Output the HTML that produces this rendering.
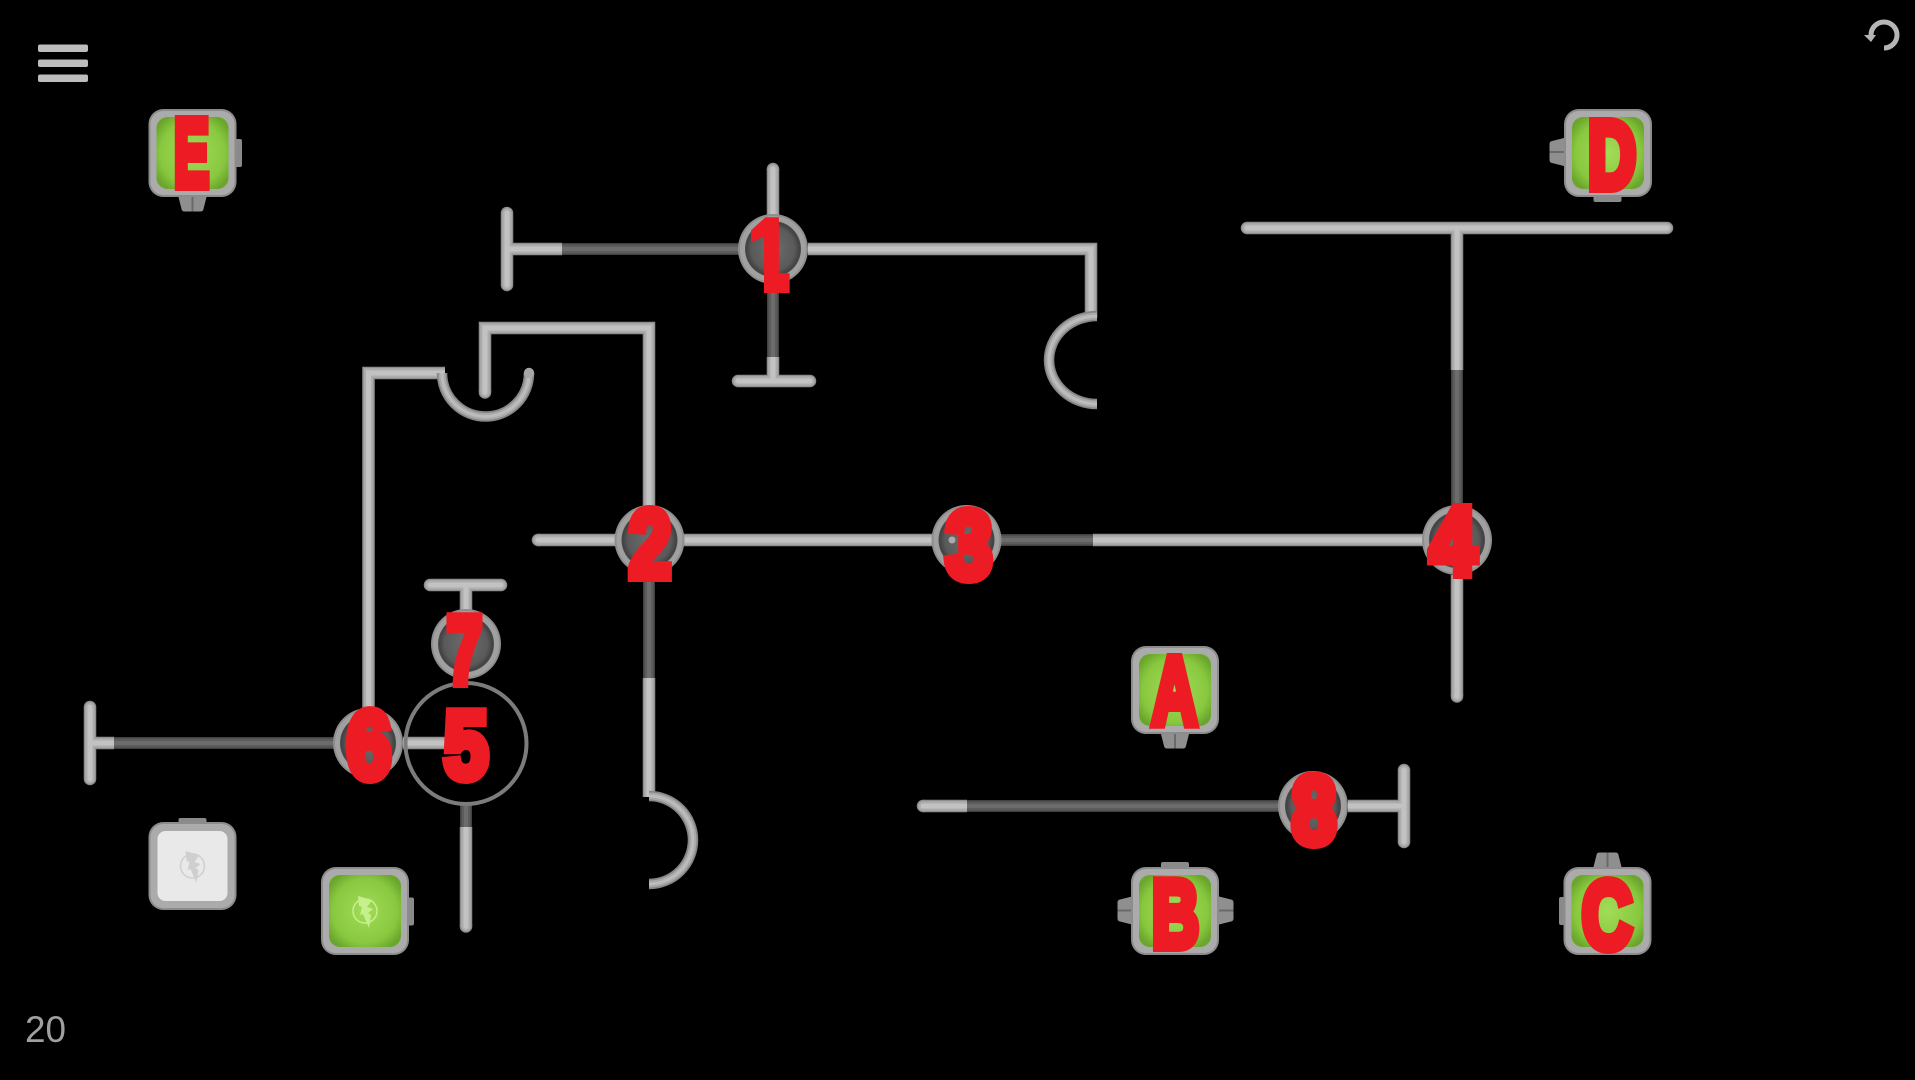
<!DOCTYPE html>
<html><head><meta charset="utf-8"><style>
html,body{margin:0;padding:0;background:#000;width:1915px;height:1080px;overflow:hidden}
svg{display:block}
.lab text{font-family:"Liberation Sans",sans-serif;font-weight:700;font-size:96px;fill:#ed1c24;stroke:#ed1c24;stroke-width:10px;stroke-linejoin:miter;stroke-miterlimit:3}
</style></head><body>
<svg width="1915" height="1080" viewBox="0 0 1915 1080" xmlns="http://www.w3.org/2000/svg">
<defs>
<radialGradient id="hubG" cx="50%" cy="50%" r="50%"><stop offset="0" stop-color="#6c6c6c"/><stop offset="0.8" stop-color="#5a5a5a"/><stop offset="1" stop-color="#404040"/></radialGradient>
<radialGradient id="greenG" cx="50%" cy="50%" r="60%"><stop offset="0" stop-color="#a2dc58"/><stop offset="0.75" stop-color="#88c83f"/><stop offset="1" stop-color="#6aa62c"/></radialGradient>
<clipPath id="oneClip"><polygon points="745,210 792,210 792,296 764,296 764,236 745,246"/></clipPath>
<g id="hub"><circle r="35" fill="#8e8e8e"/><circle r="33" fill="#a0a0a0"/><circle r="28" fill="#4a4a4a"/><circle r="27" fill="url(#hubG)"/></g>
<g id="frame"><rect width="88" height="88" rx="15" fill="#8c8c8c"/><rect x="2" y="2" width="84" height="84" rx="13" fill="#ababab"/></g>
<g id="bolt"><circle cx="44" cy="44" r="12" fill="none" stroke-width="1.5"/><polygon points="37,29 51,33 46,40 52,42 47,46 50,48 48,61 42,47 39,48 41,40 38,39" stroke="none"/></g>
<g id="gbox0"><use href="#frame"/><rect x="8" y="8" width="72" height="72" rx="11" fill="url(#greenG)"/></g>
<g id="gbox"><use href="#gbox0"/><use href="#bolt" fill="#c6f08e" stroke="#c6f08e"/></g>
<g id="wbox"><use href="#frame"/><rect x="9" y="9" width="70" height="70" rx="8" fill="#e9e9e9"/><use href="#bolt" fill="#cfcfcf" stroke="#cfcfcf"/></g>
<g id="conn"><path d="M-14,0 L14,0 L11,12 Q10.5,14.5 8,14.5 L-8,14.5 Q-10.5,14.5 -11,12 Z" fill="#8f8f8f"/><rect x="-1" y="0" width="2" height="14.5" fill="#6a6a6a"/></g>
<g id="tab"><path d="M-14,8 L-14,2 Q-14,0 -12,0 L12,0 Q14,0 14,2 L14,8 Z" fill="#8a8a8a"/></g>

<g id="lightB" fill="none" stroke-linecap="butt" stroke-linejoin="miter">
<path d="M773,215 V169"/>
<path d="M507,249 H562"/>
<path d="M808,249 H1091 V318"/>
<path d="M773,357 V381"/>
<path d="M485,392 V328 H649 V510"/>
<path d="M538,540 H616"/>
<path d="M684,540 H933"/>
<path d="M649,678 V797"/>
<path d="M445,373 H368.5 V712"/>
<path d="M90,743 H114"/>
<path d="M403,743 H453"/>
<path d="M466,612 V585"/>
<path d="M466,827 V926"/>
<path d="M1093,540 H1423"/>
<path d="M1457,370 V228"/>
<path d="M1457,575 V696"/>
<path d="M923,806 H967"/>
<path d="M1348,806 H1404"/>
</g>
<g id="lightR" fill="none" stroke-linecap="round">
<path d="M773,169 V169.5"/>
<path d="M507,213 V285"/>
<path d="M738,381 H810"/>
<path d="M485,392 V392.5"/>
<path d="M538,540 H538.5"/>
<path d="M90,707 V779"/>
<path d="M430,585 H501"/>
<path d="M466,926 V926.5"/>
<path d="M1247,228 H1667"/>
<path d="M1457,696 V696.5"/>
<path d="M923,806 H923.5"/>
<path d="M1404,770 V842"/>
</g>
<g id="dark" fill="none">
<path d="M562,249 H740"/>
<path d="M773,285 V357"/>
<path d="M649,575 V678"/>
<path d="M114,743 H335"/>
<path d="M466,805 V827"/>
<path d="M1000,540 H1093"/>
<path d="M1457,505 V370"/>
<path d="M967,806 H1280"/>
</g>
<g id="arcs" fill="none">
<path d="M1097,316 A48,44 0 0 0 1097,404"/>
<path d="M649,796 A44,44 0 0 1 649,884"/>
<path d="M442,373 A43.5,43.5 0 0 0 529,373"/>
</g>
</defs>

<rect width="1915" height="1080" fill="#000"/>

<!-- pipes -->
<g stroke="#8f8f8f" stroke-width="12.5"><use href="#lightB"/><use href="#lightR"/></g>
<g stroke="#adadad" stroke-width="9.5"><use href="#lightB"/><use href="#lightR"/></g>
<g stroke="#c2c2c2" stroke-width="5"><use href="#lightB"/><use href="#lightR"/></g>
<g stroke="#424242" stroke-width="12"><use href="#dark"/></g>
<g stroke="#5c5c5c" stroke-width="9"><use href="#dark"/></g>
<g stroke="#6c6c6c" stroke-width="4"><use href="#dark"/></g>
<g stroke="#868686" stroke-width="10.5"><use href="#arcs"/></g>
<g stroke="#a8a8a8" stroke-width="7"><use href="#arcs"/></g>
<g stroke="#bcbcbc" stroke-width="3"><use href="#arcs"/></g>
<circle cx="529" cy="373" r="5.2" fill="#a6a6a6"/>

<!-- hubs -->
<use href="#hub" x="773" y="249"/>
<use href="#hub" x="649.5" y="540"/>
<use href="#hub" x="966.5" y="540"/>
<use href="#hub" x="1457" y="540"/>
<use href="#hub" x="368" y="743"/>
<use href="#hub" x="466" y="644"/>
<use href="#hub" x="1313" y="806"/>
<circle cx="952" cy="540" r="3.5" fill="#aaa"/>

<!-- ring 5 -->
<circle cx="466" cy="743.5" r="60.5" fill="none" stroke="#7c7c7c" stroke-width="4"/>

<!-- connectors and tabs -->
<use href="#conn" transform="translate(192.5,197)"/>
<use href="#tab" transform="translate(242,153) rotate(90)"/>
<use href="#conn" transform="translate(1564,152) rotate(90)"/>
<use href="#tab" transform="translate(1607.5,202) rotate(180)"/>
<use href="#conn" transform="translate(1175,734)"/>
<use href="#tab" transform="translate(1175,862)"/>
<use href="#conn" transform="translate(1132,910.5) rotate(90)"/>
<use href="#conn" transform="translate(1219,910.5) rotate(-90)"/>
<use href="#conn" transform="translate(1607.5,867) rotate(180)"/>
<use href="#tab" transform="translate(1559,911) rotate(-90)"/>
<use href="#tab" transform="translate(192.5,818)"/>
<use href="#tab" transform="translate(414,911.5) rotate(90)"/>

<!-- boxes -->
<use href="#gbox0" x="148.5" y="109"/>
<use href="#gbox0" x="1564" y="109"/>
<use href="#gbox0" x="1131" y="646"/>
<use href="#gbox0" x="1131" y="867"/>
<use href="#gbox0" x="1563.5" y="867"/>
<use href="#gbox" x="321" y="867"/>
<use href="#wbox" x="148.5" y="822"/>

<!-- red labels -->
<g class="lab">
<text x="750" y="288" textLength="38" lengthAdjust="spacingAndGlyphs" clip-path="url(#oneClip)">1</text>
<text x="629" y="577" textLength="42" lengthAdjust="spacingAndGlyphs">2</text>
<text x="946" y="578" textLength="46" lengthAdjust="spacingAndGlyphs">3</text>
<text x="1430" y="574" textLength="46" lengthAdjust="spacingAndGlyphs">4</text>
<text x="444" y="778" textLength="44" lengthAdjust="spacingAndGlyphs">5</text>
<text x="347" y="778" textLength="44" lengthAdjust="spacingAndGlyphs">6</text>
<text x="447" y="683" textLength="35" lengthAdjust="spacingAndGlyphs">7</text>
<text x="1292" y="843" textLength="44" lengthAdjust="spacingAndGlyphs">8</text>
<text x="1152" y="724" textLength="45" lengthAdjust="spacingAndGlyphs">A</text>
<text x="1152" y="947" textLength="47" lengthAdjust="spacingAndGlyphs">B</text>
<text x="1582" y="948" textLength="50" lengthAdjust="spacingAndGlyphs">C</text>
<text x="1588" y="188" textLength="48" lengthAdjust="spacingAndGlyphs">D</text>
<text x="174" y="186" textLength="35" lengthAdjust="spacingAndGlyphs">E</text>
</g>

<!-- menu -->
<rect x="38" y="44.5" width="50" height="7.5" rx="2" fill="#bdbdbd"/>
<rect x="38" y="59.5" width="50" height="7.5" rx="2" fill="#bdbdbd"/>
<rect x="38" y="74.5" width="50" height="7.5" rx="2" fill="#bdbdbd"/>

<!-- undo -->
<path d="M1884,48 A13,13 0 1 0 1871,35" fill="none" stroke="#b5b5b5" stroke-width="5"/>
<polygon points="1864,35 1876,35 1871,42" fill="#b5b5b5"/>

<!-- counter -->
<text x="25" y="1042" font-family="'Liberation Sans',sans-serif" font-size="37" fill="#a0a0a0" textLength="41" lengthAdjust="spacingAndGlyphs">20</text>
</svg>
</body></html>
